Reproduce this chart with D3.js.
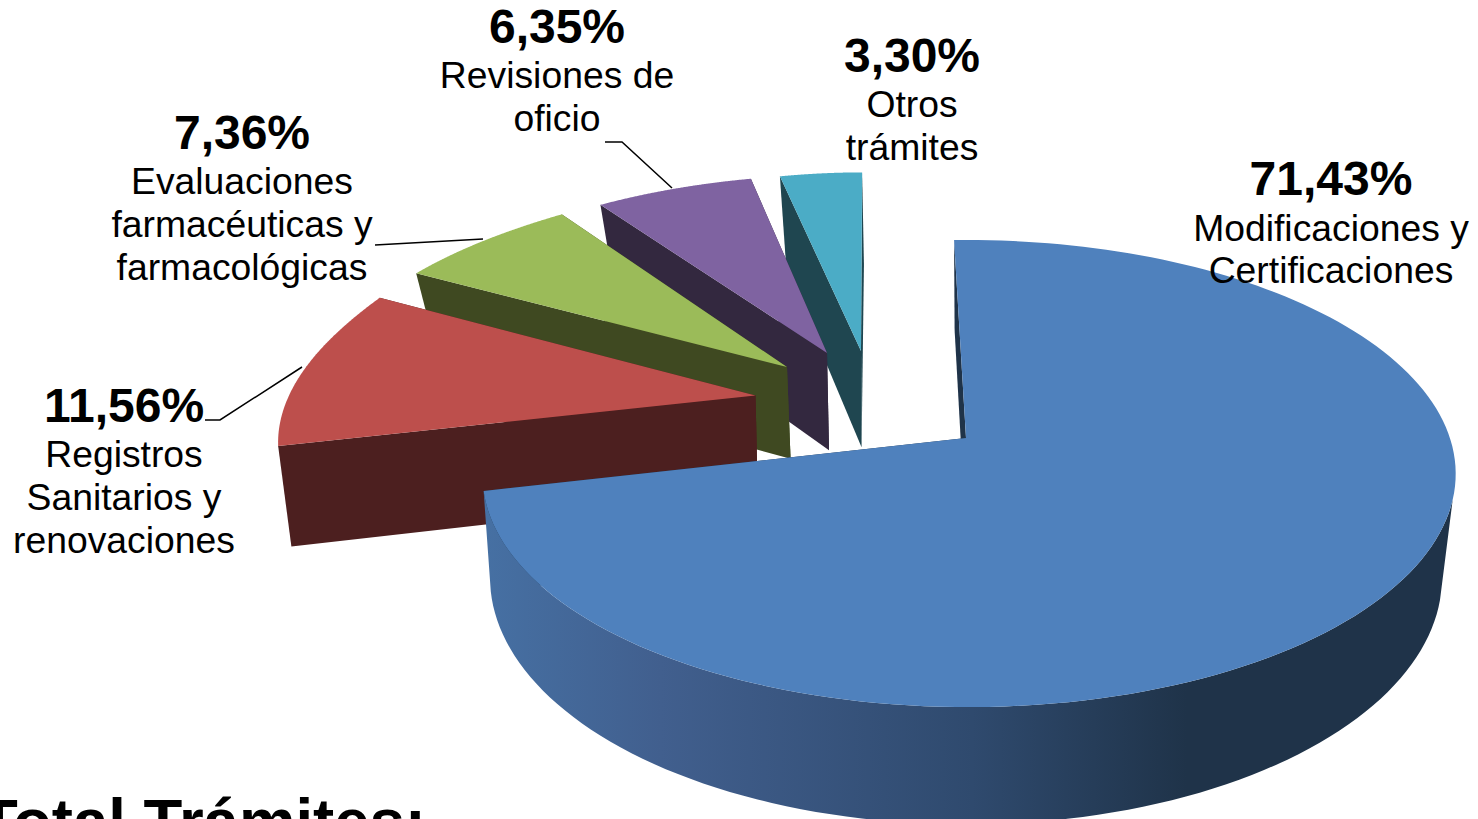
<!DOCTYPE html>
<html lang="es">
<head>
<meta charset="utf-8">
<title>Trámites</title>
<script src="https://cdn.jsdelivr.net/npm/d3@7/dist/d3.min.js"></script>
<style>
html,body{margin:0;padding:0;background:#fff;overflow:hidden}
svg{display:block}
text{font-family:"Liberation Sans",Arial,sans-serif;fill:#000}
</style>
</head>
<body>
<svg id="chart" width="1478" height="819"></svg>
<script>
// ---- data ----
const categories = [
  ["Modificaciones y", "Certificaciones"],
  ["Registros", "Sanitarios y", "renovaciones"],
  ["Evaluaciones", "farmacéuticas y", "farmacológicas"],
  ["Revisiones de", "oficio"],
  ["Otros", "trámites"]
];
const values = [71.43, 11.56, 7.36, 6.35, 3.30];
const footerTitle = "Total Trámites:";

// ---- style ----
const topColors  = ["#4f81bd", "#bd4f4c", "#9bbb59", "#7f63a1", "#4bacc6"];
const wallColors = ["#1f3349", "#4c1f1f", "#3f4921", "#33283f", "#1f4650"];

// ---- layout (pixel apex of each slice, labels, leaders) ----
const apexPx = [[966,438],[755.5,395.5],[787,367],[827,353],[861,351]];
// small perspective corrections per slice: angle (deg) and radius at the start / end of the arc
const tweak = [
  {ds:-0.43, de:0.95,  rs:1,      re:0.988},
  {ds:0.85,  de:1.085, rs:0.992,  re:1.014},
  {ds:1,     de:0.17,  rs:1.0125, re:1.018},
  {ds:0,     de:-0.34, rs:1.0075, re:1.0075},
  {ds:-0.4,  de:-0.55, rs:1.0135, re:1.011}
];
// lower plane per slice: horizontal centre, half width, vertical shift
const lower = [
  {cx:966,   a:469,   dy:0},
  {cx:962.3, a:471.8, dy:3},
  {cx:962,   a:466,   dy:-2},
  {cx:962,   a:466,   dy:4},
  {cx:962,   a:466,   dy:3}
];
const labelPos = [
  {x:1331, pct:195, first:240.5},
  {x:124,  pct:422, first:467},
  {x:242,  pct:149, first:194},
  {x:557,  pct:43,  first:88},
  {x:912,  pct:72,  first:117}
];
const leaders = [
  null,
  [[205,420],[220,420],[302,367]],
  [[375,245],[483,239]],
  [[605,142],[622,142],[672,188]],
  null
];

// ---- projection: plane coordinates (s across, t toward the viewer) to screen ----
const kTop = 0.1538, kBot = 0.171;
const xTop = d3.scaleLinear().domain([-1,1]).range([966-484, 966+484]);
const yTop = d3.scaleLinear().domain([-1,1]).range([438-228.5, 438+228.5]);
const yBot = d3.scaleLinear().domain([-1,1]).range([535-240, 535+240]);
const projTop = ([s,t]) => { const w = 1-kTop*t; return [xTop(s/w), yTop(t/w)]; };
const projBot = i => {
  const xBot = d3.scaleLinear().domain([-1,1]).range([lower[i].cx-lower[i].a, lower[i].cx+lower[i].a]);
  return ([s,t]) => { const w = 1-kBot*t; return [xBot(s/w), yBot(t/w)+lower[i].dy]; };
};
const invTop = ([X,Y]) => {
  const p = yTop.invert(Y), t = p/(1+kTop*p);
  return [xTop.invert(X)*(1-kTop*t), t];
};

// ---- slices ----
const rad = Math.PI/180;
const rot = -1.2*rad;
const pieData = d3.pie().sort(null).startAngle(rot).endAngle(rot+2*Math.PI)(values);
const offsets = apexPx.map(invTop);
const arcPoint = (i,f,flat) => {
  const d = pieData[i], w = tweak[i], off = offsets[i];
  const a = d3.interpolateNumber(d.startAngle+w.ds*rad, d.endAngle+w.de*rad)(f);
  const r = flat ? 1 : d3.interpolateNumber(w.rs,w.re)(f*f*f*f);
  return [off[0]+r*Math.sin(a), off[1]-r*Math.cos(a), a];
};
const fractions = d3.range(0,161).map(j => j/160);

const svg = d3.select("#chart");
const defs = svg.append("defs");
const grad = defs.append("linearGradient").attr("id","blueWall")
  .attr("gradientUnits","userSpaceOnUse")
  .attr("x1",485).attr("x2",1460).attr("y1",0).attr("y2",0);
[[0,"#4670a3"],[0.18,"#415f8e"],[0.5,"#2f4a6e"],[0.72,"#1f3349"],[1,"#1f3349"]]
  .forEach(([o,c]) => grad.append("stop").attr("offset",o).attr("stop-color",c));

const line = d3.line();
const poly = pts => line(pts)+"Z";

// back to front: teal, purple, green, red, blue
d3.range(values.length-1,-1,-1).forEach(i => {
  const off = offsets[i], bot = projBot(i);
  const pts = fractions.map(f => arcPoint(i,f));
  const g = svg.append("g").attr("class","slice");
  // cut faces
  [arcPoint(i,1),arcPoint(i,0)].forEach(o => {
    g.append("path")
      .attr("d",poly([projTop(off),projTop(o),bot(o),bot(off)]))
      .attr("fill",wallColors[i]);
  });
  // outer wall: only the part turned toward the viewer (the large slice)
  if (i===0) {
    const front = pts.filter(p => p[2] > 105*rad);
    const floor = fractions.map(f => arcPoint(i,f,true)).filter(p => p[2] > 105*rad);
    g.append("path")
      .attr("d",poly([...front.map(projTop),...floor.reverse().map(bot)]))
      .attr("fill","url(#blueWall)");
  }
  // top
  g.append("path")
    .attr("d",poly([projTop(off),...pts.map(projTop)]))
    .attr("fill",topColors[i]);
});

// leaders
leaders.filter(Boolean).forEach(l => svg.append("path")
  .attr("d",line(l)).attr("fill","none").attr("stroke","#000").attr("stroke-width",1.5));

// labels
const fmt = v => v.toFixed(2).replace(".",",")+"%";
const lab = svg.selectAll("g.label").data(values).join("g").attr("class","label");
lab.append("text")
  .attr("x",(d,i)=>labelPos[i].x).attr("y",(d,i)=>labelPos[i].pct)
  .attr("text-anchor","middle").attr("font-size",48).attr("font-weight","bold")
  .text(fmt);
lab.each(function(d,i){
  d3.select(this).selectAll("text.cat").data(categories[i]).join("text").attr("class","cat")
    .attr("x",labelPos[i].x).attr("y",(s,j)=>labelPos[i].first+j*42.8)
    .attr("text-anchor","middle").attr("font-size",37.3).text(s=>s);
});

svg.append("text").attr("x",-21).attr("y",842.5)
  .attr("font-size",63.5).attr("font-weight","bold").text(footerTitle);
</script>
</body>
</html>
